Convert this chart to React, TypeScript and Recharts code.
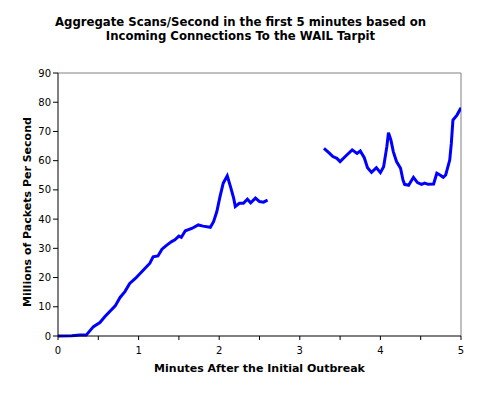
import React from 'react';
import { LineChart, Line, XAxis, YAxis, ReferenceLine } from 'recharts';

const minutes: number[] = [
  0, 0.17, 0.27, 0.35, 0.44, 0.52, 0.58, 0.71, 0.77, 0.83, 0.89, 0.96, 1.06, 1.14, 1.18, 1.24, 1.29, 1.35,
  1.41, 1.45, 1.5, 1.53, 1.58, 1.66, 1.74, 1.8, 1.89, 1.93, 1.97, 2.01, 2.05, 2.1, 2.14, 2.18, 2.2, 2.25,
  2.3, 2.35, 2.39, 2.45, 2.5, 2.55, 2.6,
  2.95,
  3.3, 3.37, 3.41, 3.46, 3.5, 3.57, 3.65, 3.71, 3.75, 3.8, 3.84, 3.89, 3.95, 4.0, 4.04, 4.08, 4.1, 4.13,
  4.16, 4.2, 4.25, 4.28, 4.3, 4.35, 4.41, 4.46, 4.51, 4.55, 4.59, 4.66, 4.7, 4.74, 4.78, 4.81, 4.86, 4.88,
  4.9, 4.95, 5.0,
];

const packets: (number | null)[] = [
  0, 0.1, 0.3, 0.3, 3.2, 4.6, 6.6, 10.3, 13.2, 15.2, 18, 19.7, 22.6, 24.9, 27.1, 27.4, 29.7, 31.1,
  32.3, 32.9, 34.2, 33.8, 36, 36.8, 38, 37.6, 37.2, 39.1, 42.5, 47.7, 52.3, 54.8, 51.1, 47.1, 44.3, 45.4,
  45.4, 46.8, 45.6, 47.2, 46, 45.8, 46.5,
  null,
  64.2, 62.5, 61.4, 60.8, 59.7, 61.6, 63.7, 62.5, 63.3, 61, 57.6, 56, 57.6, 55.9, 57.9, 64.8, 69.6, 67.1,
  63.1, 59.7, 57.4, 53.4, 51.9, 51.6, 54.3, 52.5, 51.9, 52.3, 51.9, 52, 55.7, 55.1, 54.3, 55.1, 60.2, 65.9,
  73.9, 75.6, 78.1,
];

const xTicks: number[] = [0, 0.5, 1, 1.5, 2, 2.5, 3, 3.5, 4, 4.5, 5];
const yTicks: number[] = [0, 10, 20, 30, 40, 50, 60, 70, 80, 90];

const titleLines: string[] = [
  'Aggregate Scans/Second in the first 5 minutes based on',
  'Incoming Connections To the WAIL Tarpit',
];
const xTitle = 'Minutes After the Initial Outbreak';
const yTitle = 'Millions of Packets Per Second';

const data = minutes.map((m, i) => ({ minute: m, packets: packets[i] }));

const font = 'Verdana, "DejaVu Sans", sans-serif';

export default function App() {
  return (
    <div style={{ position: 'absolute', left: 0, top: 0, width: 482, height: 395, background: '#fff', fontFamily: font }}>
      <div
        style={{
          position: 'absolute',
          left: 0,
          top: 16,
          width: 481,
          textAlign: 'center',
          fontWeight: 'bold',
          fontSize: 11.7,
          lineHeight: '13.5px',
          color: '#000',
        }}
      >
        {titleLines.map((t) => (
          <div key={t}>{t}</div>
        ))}
      </div>
      <LineChart
        width={482}
        height={395}
        data={data}
        margin={{ top: 73, right: 21, left: 0, bottom: 0 }}
      >
        <XAxis
          dataKey="minute"
          type="number"
          domain={[0, 5]}
          ticks={xTicks}
          interval={0}
          tickFormatter={(v: number) => (Number.isInteger(v) ? String(v) : '')}
          height={59}
          stroke="#000"
          tickSize={4}
          tick={{ fill: '#000', fontSize: 10, fontFamily: font, dy: 5 }}
          allowDataOverflow
        />
        <YAxis
          type="number"
          domain={[0, 90]}
          ticks={yTicks}
          interval={0}
          width={58}
          stroke="#000"
          tickSize={5}
          tick={{ fill: '#000', fontSize: 10, fontFamily: font }}
        />
        <ReferenceLine y={90} stroke="#808080" strokeWidth={1} />
        <ReferenceLine x={5} stroke="#808080" strokeWidth={1} />
        <Line
          dataKey="packets"
          type="linear"
          stroke="#0000FF"
          strokeWidth={3}
          dot={false}
          connectNulls={false}
          isAnimationActive={false}
        />
      </LineChart>
      <div
        style={{
          position: 'absolute',
          left: 58,
          width: 403,
          top: 362,
          textAlign: 'center',
          fontWeight: 'bold',
          fontSize: 11,
          lineHeight: '14px',
          color: '#000',
        }}
      >
        {xTitle}
      </div>
      <div
        style={{
          position: 'absolute',
          left: 28 - 120,
          top: 212 - 7,
          width: 240,
          height: 14,
          textAlign: 'center',
          fontWeight: 'bold',
          fontSize: 11,
          lineHeight: '14px',
          color: '#000',
          transform: 'rotate(-90deg)',
          transformOrigin: '50% 50%',
          whiteSpace: 'nowrap',
        }}
      >
        {yTitle}
      </div>
    </div>
  );
}
